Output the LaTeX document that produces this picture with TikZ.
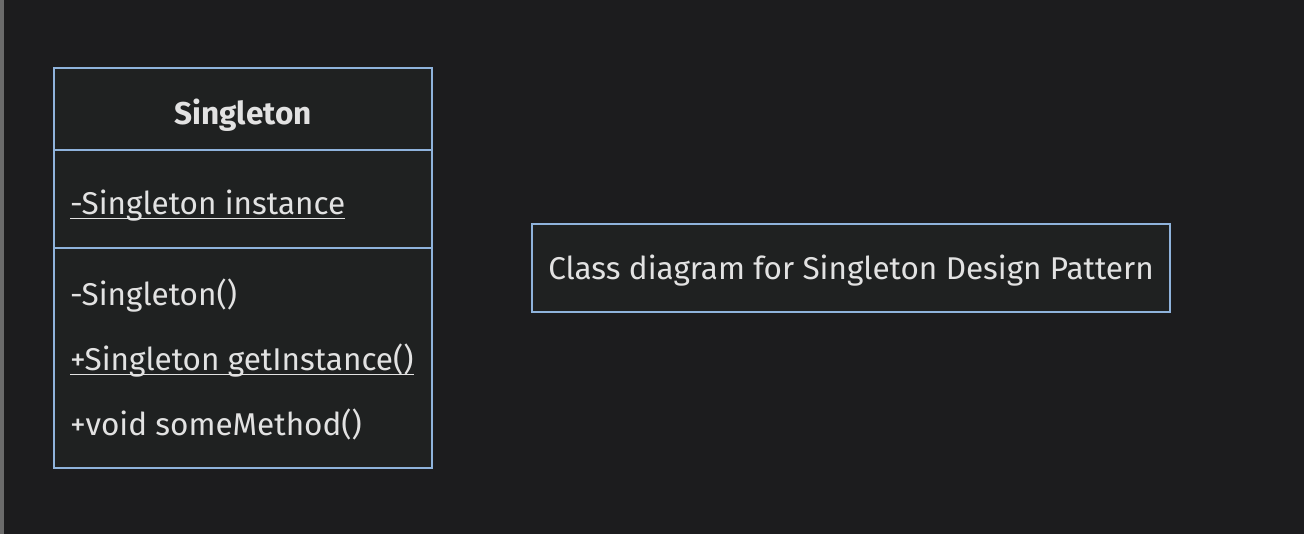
\documentclass[tikz,border=0pt]{standalone}
\usepackage{fontspec}
\setmainfont{Fira Sans}
\definecolor{bg}{HTML}{1C1C1E}
\definecolor{strip}{HTML}{6B6B6B}
\definecolor{boxfill}{HTML}{1F2121}
\definecolor{edge}{HTML}{8FB3DC}
\definecolor{txt}{HTML}{E2E2E2}
\tikzset{
  umlbox/.style={draw=edge, fill=boxfill, line width=1.5pt, inner sep=0pt, rectangle},
  label/.style={text=txt, font=\fontsize{31.5}{36}\selectfont, inner sep=0pt},
  member/.style={label, anchor=base west},
  divider/.style={draw=edge, line width=1.5pt},
  underl/.style={draw=txt, line width=1.5pt}
}
\begin{document}
\begin{tikzpicture}[x=1pt,y=1pt]
\useasboundingbox (0,0) rectangle (1304,534);
\fill[bg] (0,0) rectangle (1304,534);
\fill[strip] (0,0) rectangle (4,534);
% class box
\node[umlbox, minimum width=378pt, minimum height=400pt] (cls) at (243,266) {};
\coordinate (d1l) at (54,384); \coordinate (d1r) at (432,384);
\coordinate (d2l) at (54,286); \coordinate (d2r) at (432,286);
\draw[divider] (d1l) -- (d1r);
\draw[divider] (d2l) -- (d2r);
\node[label, font=\fontsize{31.5}{36}\selectfont\bfseries, anchor=base] (title) at (243,409.5) {Singleton};
\node[member] (attr) at (70,319.5) {-Singleton instance};
\node[member] (m1) at (70,228.5) {-Singleton()};
\node[member] (m2) at (70,163.5) {+Singleton getInstance()};
\node[member] (m3) at (70,98.5) {+void someMethod()};
\draw[underl] ([yshift=-4pt]attr.base west) -- ([yshift=-4pt]attr.base east);
\draw[underl] ([yshift=-4pt]m2.base west) -- ([yshift=-4pt]m2.base east);
% note
\node[umlbox, minimum width=638pt, minimum height=88pt] (note) at (851,266) {};
\node[label, anchor=base] (notetext) at (851,254) {Class diagram for Singleton Design Pattern};
\end{tikzpicture}
\end{document}
